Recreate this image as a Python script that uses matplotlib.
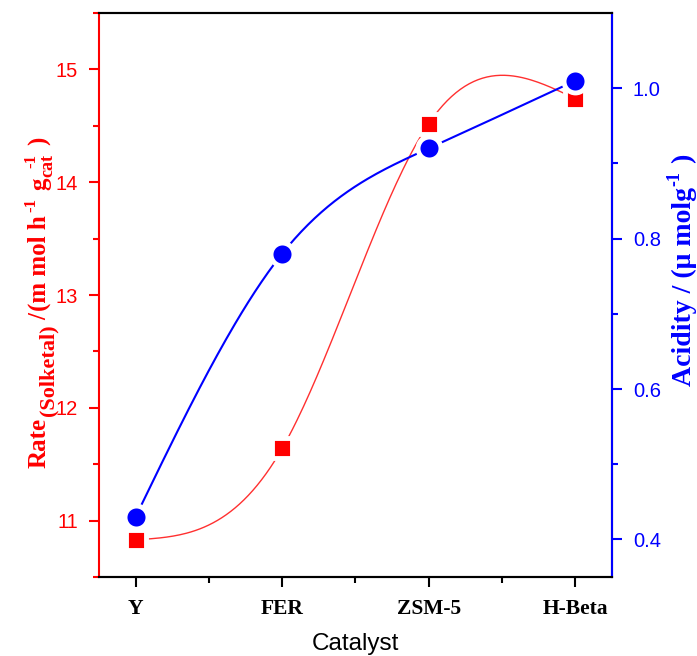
import numpy as np
import matplotlib
matplotlib.use('Agg')
import matplotlib.pyplot as plt
from matplotlib.ticker import MultipleLocator, FixedLocator

# Datos
catalysts = ['Y', 'FER', 'ZSM-5', 'H-Beta']
rate = [10.83, 11.64, 14.52, 14.74]
acidity = [0.43, 0.78, 0.92, 1.01]


# Spline cúbico natural (como en Origin)
def natural_spline(x, y, n=200):
  x = np.asarray(x, float)
  y = np.asarray(y, float)
  m = len(x)
  h = np.diff(x)
  A = np.zeros((m, m))
  r = np.zeros(m)
  A[0, 0] = 1
  A[-1, -1] = 1
  for i in range(1, m - 1):
    A[i, i - 1] = h[i - 1]
    A[i, i] = 2 * (h[i - 1] + h[i])
    A[i, i + 1] = h[i]
    r[i] = 6 * ((y[i + 1] - y[i]) / h[i] - (y[i] - y[i - 1]) / h[i - 1])
  M = np.linalg.solve(A, r)
  xs = np.linspace(x[0], x[-1], n)
  ys = np.zeros_like(xs)
  for k, xv in enumerate(xs):
    i = min(np.searchsorted(x, xv, side='right') - 1, m - 2)
    t1 = x[i + 1] - xv
    t0 = xv - x[i]
    ys[k] = (M[i] * t1**3 + M[i + 1] * t0**3) / (6 * h[i]) \
      + (y[i] / h[i] - M[i] * h[i] / 6) * t1 \
      + (y[i + 1] / h[i] - M[i + 1] * h[i] / 6) * t0
  return xs, ys


# Texto vertical armado por piezas (sub/superíndices estilo Origin)
# piezas: (texto, tamaño, desplazamiento x en px, hueco antes en px)
def vertical_label(fig, x0, y0, pieces, color):
  W, H = fig.get_size_inches() * fig.dpi
  ren = fig.canvas.get_renderer()
  y = y0
  for s, size, dx, gap in pieces:
    y += gap
    t = fig.text((x0 + dx) / W, y / H, s, rotation=90, rotation_mode='anchor',
                 ha='left', va='baseline', fontsize=size, color=color,
                 fontfamily='Liberation Serif', fontweight='bold')
    bb = t.get_window_extent(ren)
    y += bb.height


xpos = np.arange(len(catalysts))

fig = plt.figure(figsize=(6.97, 6.56), dpi=100)
ax = fig.add_axes([0.142, 0.1204, 0.736, 0.8598])
ax2 = ax.twinx()

xs, ys = natural_spline(xpos, rate)
ax.plot(xs, ys, '-', color='#ff3030', lw=1.0, zorder=1)
ax.plot(xpos, rate, 's', color='red', ms=14, mec='white', mew=3.5, zorder=3)

xs, ys = natural_spline(xpos, acidity)
ax2.plot(xs, ys, '-', color='blue', lw=1.5, zorder=1)
ax2.plot(xpos, acidity, 'o', color='blue', ms=16.5, mec='white', mew=3.5, zorder=3)

ax.set_xlim(-0.25, 3.25)
ax.set_ylim(10.5, 15.5)
ax2.set_ylim(0.35, 1.1)

ax.set_xticks(xpos)
ax.set_xticklabels(catalysts, fontfamily='Liberation Serif', fontweight='bold', fontsize=15.5)
ax.xaxis.set_minor_locator(FixedLocator([0.5, 1.5, 2.5]))
ax.yaxis.set_major_locator(MultipleLocator(1))
ax.yaxis.set_minor_locator(MultipleLocator(0.5))
ax2.yaxis.set_major_locator(FixedLocator([0.4, 0.6, 0.8, 1.0]))
ax2.yaxis.set_minor_locator(FixedLocator([0.5, 0.7, 0.9]))

for a in (ax, ax2):
  for s in a.spines.values():
    s.set_linewidth(1.5)
ax.spines['left'].set_color('red')
ax2.spines['left'].set_visible(False)
ax2.spines['right'].set_color('blue')

ax.tick_params(axis='x', which='major', length=7, width=1.5, pad=9)
ax.tick_params(axis='x', which='minor', length=4, width=1.5)
ax.tick_params(axis='y', which='major', length=7, width=1.5, color='red',
               labelcolor='red', labelsize=14.5, pad=8)
ax.tick_params(axis='y', which='minor', length=4, width=1.5, color='red')
ax2.tick_params(axis='y', which='major', length=7, width=1.5, color='blue',
                labelcolor='blue', labelsize=14.5, pad=8)
ax2.tick_params(axis='y', which='minor', length=4, width=1.5, color='blue')
for t in ax.get_yticklabels() + ax2.get_yticklabels():
  t.set_fontfamily('Liberation Sans')

ax.set_xlabel('Catalyst', fontfamily='Liberation Sans', fontsize=17.5, labelpad=10)

# Eje izquierdo: Rate(Solketal) /(m mol h-1 gcat-1)
vertical_label(fig, 46, 188, [
  ('Rate', 18, 0, 0),
  ('(Solketal)', 16, 7, 2),
  ('/', 18, 0, 4),
  ('(m mol h', 18, 0, 2),
  ('-1', 12, -11, 3),
  ('g', 18, 0, 8),
  ('cat', 13, 6, 1),
  ('-1', 12, -11, -14),
  (')', 18, 0, 9),
], 'red')

# Eje derecho: Acidity / (µ molg-1 )
vertical_label(fig, 691, 656 - 386, [
  ('Acidity / (\u03bc molg', 20, 0, 0),
  ('-1', 13, -12, 1),
  (' )', 20, 0, 1),
], 'blue')

fig.savefig('out.png', dpi=100)
